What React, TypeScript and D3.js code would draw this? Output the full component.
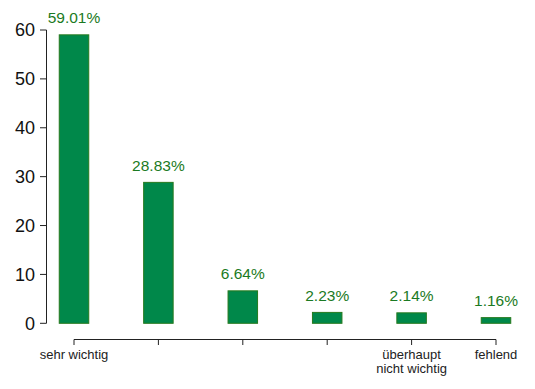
import React from "react";
import * as d3 from "d3";

const categories = ["sehr wichtig", "", "", "", "überhaupt\nnicht wichtig", "fehlend"];
const values = [59.01, 28.83, 6.64, 2.23, 2.14, 1.16];
const yTicks = [0, 10, 20, 30, 40, 50, 60];

const W = 535;
const H = 389;

export default function App() {
  const x = d3.scalePoint<number>().domain(d3.range(categories.length)).range([74, 496]);
  const y = d3.scaleLinear().domain([0, 60]).range([323.3, 30]);
  const barW = 29.5;
  const fill = "#00884a";
  const stroke = "#267a1e";
  const textGreen = "#1b7a23";
  const font = "Liberation Sans, Arial, Helvetica, sans-serif";

  return (
    <svg width={W} height={H} style={{ position: "absolute", left: 0, top: 0 }} fontFamily={font}>
      <rect width={W} height={H} fill="#fff" />
      {/* y axis */}
      <line x1={46.5} x2={46.5} y1={y(60)} y2={y(0)} stroke="#222" strokeWidth={1} />
      {yTicks.map((t) => (
        <g key={t}>
          <line x1={40} x2={46.5} y1={y(t)} y2={y(t)} stroke="#222" strokeWidth={1} />
          <text x={35} y={y(t)} dy="0.35em" textAnchor="end" fontSize={18} fill="#111">
            {t}
          </text>
        </g>
      ))}
      {/* x axis */}
      <line x1={x(0)!} x2={x(categories.length - 1)!} y1={339.5} y2={339.5} stroke="#222" strokeWidth={1} />
      {categories.map((c, i) => (
        <g key={i}>
          <line x1={x(i)!} x2={x(i)!} y1={339.5} y2={345} stroke="#222" strokeWidth={1} />
          {c.split("\n").map((line, k) => (
            <text key={k} x={x(i)!} y={359 + k * 14} textAnchor="middle" fontSize={13} fill="#222">
              {line}
            </text>
          ))}
        </g>
      ))}
      {/* bars */}
      {values.map((v, i) => (
        <g key={i}>
          <rect
            x={x(i)! - barW / 2}
            y={y(v)}
            width={barW}
            height={y(0) - y(v)}
            fill={fill}
            stroke={stroke}
            strokeWidth={1}
          />
          <text x={x(i)!} y={y(v) - 11.5} textAnchor="middle" fontSize={15.5} fill={textGreen}>
            {v.toFixed(2) + "%"}
          </text>
        </g>
      ))}
    </svg>
  );
}
